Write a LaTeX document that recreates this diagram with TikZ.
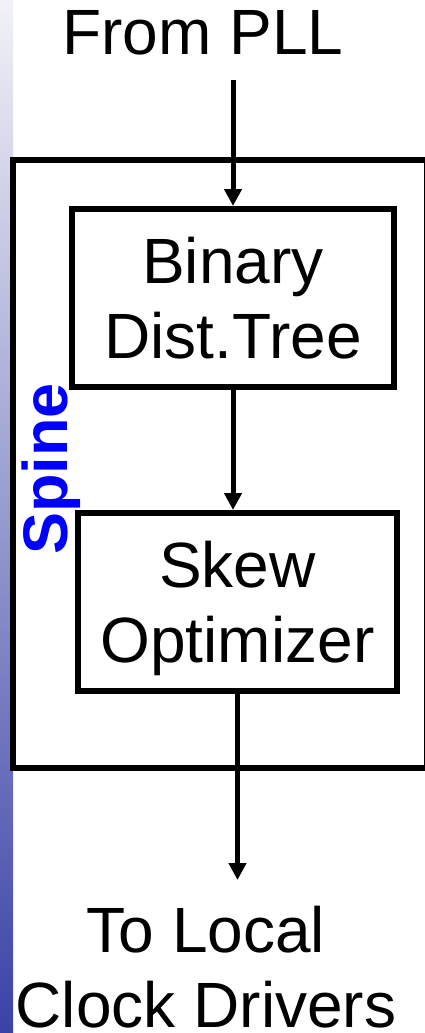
\documentclass[tikz,border=0pt]{standalone}
\usepackage{fontspec}
\setmainfont{Liberation Sans}
\usetikzlibrary{arrows.meta}
\definecolor{striptop}{RGB}{242,242,247}
\definecolor{stripbot}{RGB}{58,66,166}

\begin{document}
\begin{tikzpicture}[x=1pt,y=-1pt,
    block/.style={draw,line width=6pt,inner sep=0pt,align=center,text depth=0pt},
    flow/.style={line width=5pt,-{Triangle[width=17pt,length=17pt]}},
    every node/.style={font=\fontsize{64}{75}\selectfont}]
  \useasboundingbox (0,0) rectangle (425,1033);
  \shade[top color=striptop,bottom color=stripbot] (0,0) rectangle (13,1033);
  \node[block,minimum width=414pt,minimum height=608pt] (spinebox) at (220,464) {};
  \node[block,minimum width=322pt,minimum height=178pt] (tree) at (233,298) {Binary\\Dist.Tree};
  \node[block,minimum width=319pt,minimum height=178pt] (skew) at (237.5,602) {Skew\\Optimizer};
  \node[anchor=base,inner sep=0pt] (pll) at (203,55) {From PLL};
  \node[anchor=north,inner sep=0pt,align=center] (drivers) at (206,906) {To Local\\Clock Drivers};
  \node[anchor=base,rotate=90,inner sep=0pt,text=blue,font=\fontsize{63}{75}\selectfont\bfseries] (spine) at (67,469) {Spine};
  \coordinate (in) at (233,80);
  \coordinate (out) at (237.5,880);
  \draw[flow] (in) -- (tree.north);
  \draw[flow] (tree.south) -- (tree.south |- skew.north);
  \draw[flow] (skew.south) -- (out);
\end{tikzpicture}
\end{document}
